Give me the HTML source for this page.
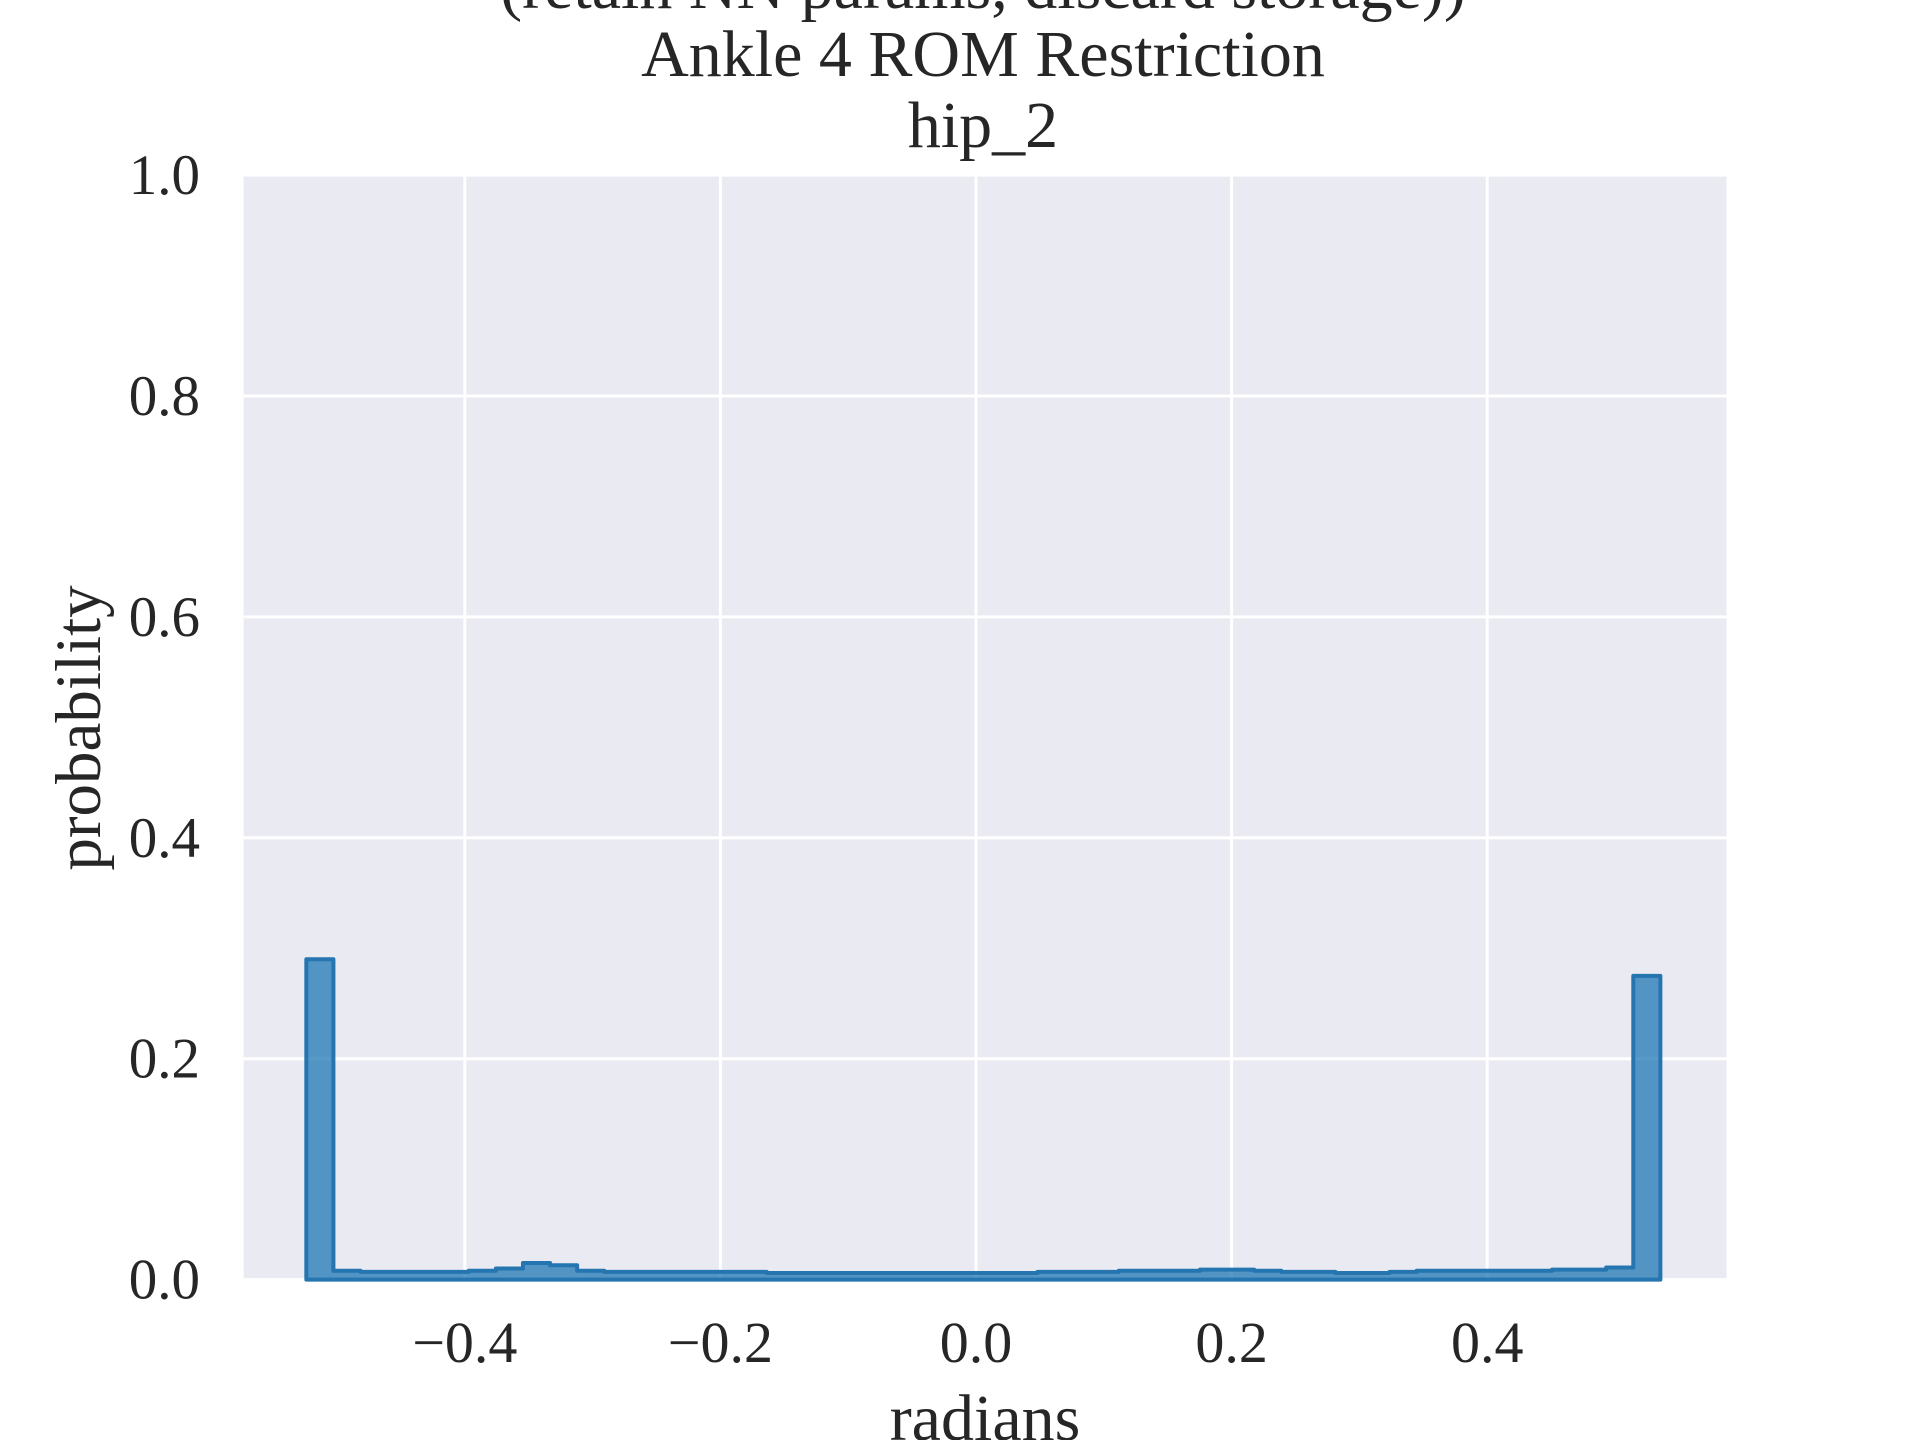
<!DOCTYPE html>
<html><head><meta charset="utf-8"><style>
html,body{margin:0;padding:0;background:#fff;}
svg text{font-family:"Liberation Serif",serif;fill:#262626;}
</style></head><body>
<svg id="chart" width="1920" height="1440" viewBox="0 0 1920 1440">
<rect x="243.7" y="175.1" width="1482.8" height="1104.5" fill="#eaeaf2"/>
<g id="grid"></g>
<g id="bars"></g>
<g id="ticks"></g>
<text x="983" y="8" font-size="66" text-anchor="middle">(retain NN params, discard storage))</text>
<text x="983" y="76" font-size="66" text-anchor="middle">Ankle 4 ROM Restriction</text>
<text x="983" y="147" font-size="66" text-anchor="middle">hip_2</text>
<text x="985" y="1440" font-size="66" text-anchor="middle">radians</text>
<text transform="translate(100,728) rotate(-90)" font-size="65" text-anchor="middle">probability</text>
</svg>
<script>
const binStart = -0.524;
const binWidth = 0.02119;
const probs = [0.29,0.008,0.007,0.007,0.007,0.007,0.008,0.010,0.015,0.013,
0.008,0.007,0.007,0.007,0.007,0.007,0.007,0.006,0.006,0.006,
0.006,0.006,0.006,0.006,0.006,0.006,0.006,0.007,0.007,0.007,
0.008,0.008,0.008,0.009,0.009,0.008,0.007,0.007,0.006,0.006,
0.007,0.008,0.008,0.008,0.008,0.008,0.009,0.009,0.011,0.275];
const xTicks = [-0.4,-0.2,0.0,0.2,0.4];
const xTickLabels = ["\u22120.4","\u22120.2","0.0","0.2","0.4"];
const yTicks = [0,0.2,0.4,0.6,0.8,1.0];
const yTickLabels = ["0.0","0.2","0.4","0.6","0.8","1.0"];
const NS="http://www.w3.org/2000/svg";
const X = v => 976 + v*1278;
const Y = v => 1279.6 - v*1104.5;
const grid=document.getElementById('grid'), bars=document.getElementById('bars'), ticks=document.getElementById('ticks');
xTicks.forEach((t,i)=>{
  const l=document.createElementNS(NS,'line');
  l.setAttribute('x1',X(t));l.setAttribute('x2',X(t));l.setAttribute('y1',175.1);l.setAttribute('y2',1279.6);
  l.setAttribute('stroke','#fff');l.setAttribute('stroke-width','3');
  
  
  grid.appendChild(l);
  const tx=document.createElementNS(NS,'text');
  tx.setAttribute('x',X(t));tx.setAttribute('y',1362);tx.setAttribute('font-size','58');tx.setAttribute('text-anchor','middle');
  tx.textContent=xTickLabels[i];
  
  
  ticks.appendChild(tx);
});
yTicks.forEach((t,i)=>{
  const l=document.createElementNS(NS,'line');
  l.setAttribute('x1',243.7);l.setAttribute('x2',1726.5);l.setAttribute('y1',Y(t));l.setAttribute('y2',Y(t));
  l.setAttribute('stroke','#fff');l.setAttribute('stroke-width','3');
  
  
  grid.appendChild(l);
  const tx=document.createElementNS(NS,'text');
  tx.setAttribute('x',200);tx.setAttribute('y',Y(t)+19);tx.setAttribute('font-size','57');tx.setAttribute('text-anchor','end');
  tx.textContent=yTickLabels[i];
  
  
  ticks.appendChild(tx);
});
let d='M'+X(binStart)+','+Y(0);
probs.forEach((p,i)=>{
  const x0=X(binStart+i*binWidth), x1=X(binStart+(i+1)*binWidth);
  d+=' L'+x0+','+Y(p)+' L'+x1+','+Y(p);
});
d+=' L'+X(binStart+probs.length*binWidth)+','+Y(0)+' Z';
const path=document.createElementNS(NS,'path');
path.setAttribute('d',d);path.setAttribute('fill','rgba(31,119,180,0.75)');
path.setAttribute('stroke','#2475b0');path.setAttribute('stroke-width','4');path.setAttribute('stroke-linejoin','round');


bars.appendChild(path);
</script>
</body></html>
